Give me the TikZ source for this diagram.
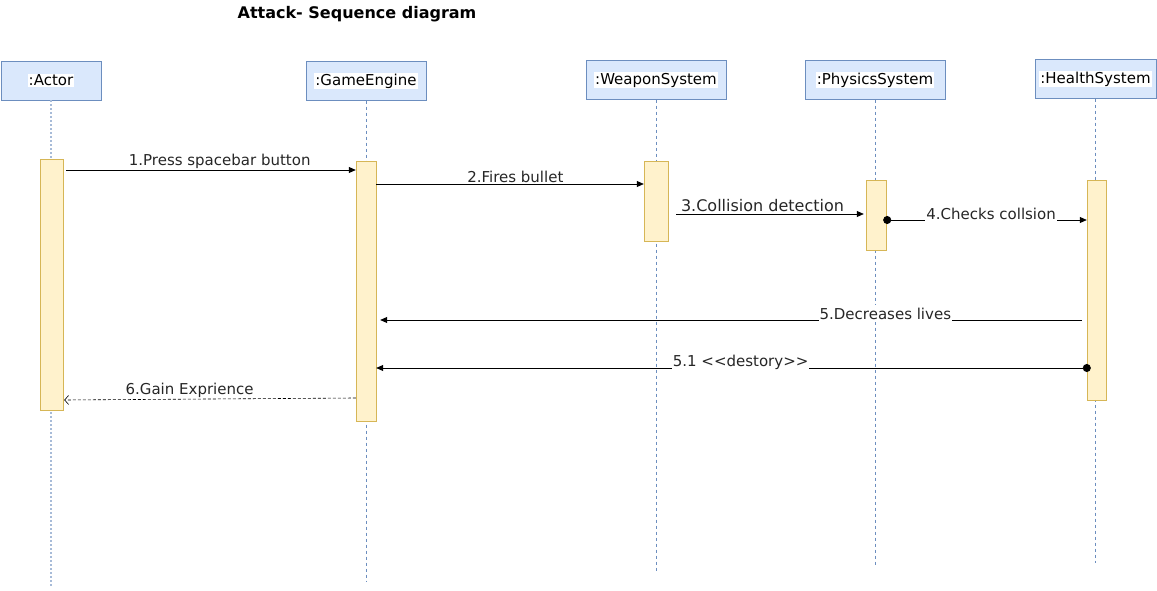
\documentclass[tikz,border=0pt]{standalone}
\usepackage{fontspec}
\setmainfont{DejaVu Sans}
\usetikzlibrary{arrows.meta}
\definecolor{boxfill}{HTML}{DAE8FC}
\definecolor{boxline}{HTML}{6C8EBF}
\definecolor{barfill}{HTML}{FFF2CC}
\definecolor{barline}{HTML}{D6B656}

\begin{document}
\begin{tikzpicture}[x=1pt,y=-1pt]
        \tikzstyle{obj}=[draw=boxline, fill=boxfill, minimum height=39pt, inner sep=0pt, font=\fontsize{15}{17}\selectfont]
        \tikzstyle{bar}=[draw=barline, fill=barfill, inner sep=0pt]
        \tikzstyle{life}=[boxline, dashed, line width=0.6pt]
        \tikzstyle{msg}=[line width=0.8pt, -{Triangle[length=7pt,width=6pt]}]
        \tikzstyle{ret}=[line width=0.6pt, dash pattern=on 3pt off 2pt, -{Straight Barb[length=4pt,width=9pt]}]
        \tikzstyle{lbl}=[font=\fontsize{15}{17}\selectfont, inner sep=1pt, text=black!85]
        \tikzstyle{cut}=[fill=white, anchor=base, inner ysep=2.5pt]
        \setlength{\fboxsep}{1pt}

        \useasboundingbox (0,0) rectangle (1157,591);
        \node[font=\bfseries\fontsize{16}{18}\selectfont] (title) at (357,14) {Attack- Sequence diagram};

        % objects
        \node[obj, minimum width=100pt] (actor)   at (51,80.5)  {\colorbox{white}{:Actor}};
        \node[obj, minimum width=120pt] (engine)  at (366,81)   {\colorbox{white}{:GameEngine}};
        \node[obj, minimum width=140pt] (weapon)  at (656,80)   {\colorbox{white}{:WeaponSystem}};
        \node[obj, minimum width=140pt] (physics) at (875,80)   {\colorbox{white}{:PhysicsSystem}};
        \node[obj, minimum width=121pt] (health)  at (1095.5,79) {\colorbox{white}{:HealthSystem}};

        % lifelines
        \draw[boxline!60, line width=1.2pt, dash pattern=on 2pt off 2pt] (actor.south) -- (actor.south |- 0,588);
        \draw[life] (engine.south)  -- (engine.south |- 0,582);
        \draw[life] (weapon.south)  -- (weapon.south |- 0,571);
        \draw[life] (physics.south) -- (physics.south |- 0,565);
        \draw[life] (health.south)  -- (health.south |- 0,563);

        % activations
        \node[bar, minimum width=23pt, minimum height=251pt] (actBar) at (51.5,284.5) {};
        \node[bar, minimum width=20pt, minimum height=260pt] (engBar) at (366,291) {};
        \node[bar, minimum width=24pt, minimum height=80pt]  (wpnBar) at (656,201) {};
        \node[bar, minimum width=20pt, minimum height=70pt]  (phyBar) at (876,215) {};
        \node[bar, minimum width=19pt, minimum height=220pt] (hltBar) at (1096.5,290) {};

        % messages
        \draw[msg] ([xshift=3pt]actBar.east |- 0,170) -- (engBar.west |- 0,170)
                node[lbl, above, pos=0.53] {1.Press spacebar button};
        \draw[msg] (engBar.east |- 0,184) -- (wpnBar.west |- 0,184)
                node[lbl, above, pos=0.52] {2.Fires bullet};
        \draw[msg] ([xshift=8pt]wpnBar.east |- 0,214) -- ([xshift=-2pt]phyBar.west |- 0,214)
                node[lbl, above, inner sep=2pt, pos=0.46, font=\fontsize{16}{18}\selectfont] {3.Collision detection};
        \draw[line width=0.8pt, {Circle[length=8pt]}-{Triangle[length=7pt,width=6pt]}] ([xshift=-3pt]phyBar.east |- 0,220) -- (hltBar.west |- 0,220)
                node[lbl, cut, yshift=0.5pt, pos=0.53] {4.Checks collsion};
        \draw[msg] ([xshift=-5pt]hltBar.west |- 0,320) -- ([xshift=4pt]engBar.east |- 0,320)
                node[lbl, cut, yshift=1pt, pos=0.28] {5.Decreases lives};
        \draw[line width=0.8pt, {Circle[length=8pt]}-{Triangle[length=7pt,width=6pt]}] ([xshift=4pt]hltBar.west |- 0,368) -- (engBar.east |- 0,368)
                node[lbl, cut, yshift=2pt, pos=0.49] {5.1 <{}<destory>{}>};
        \draw[ret] (engBar.west |- 0,398) -- ([xshift=1pt]actBar.east |- 0,400)
                node[lbl, above, pos=0.57] {6.Gain Exprience};
\end{tikzpicture}
\end{document}
